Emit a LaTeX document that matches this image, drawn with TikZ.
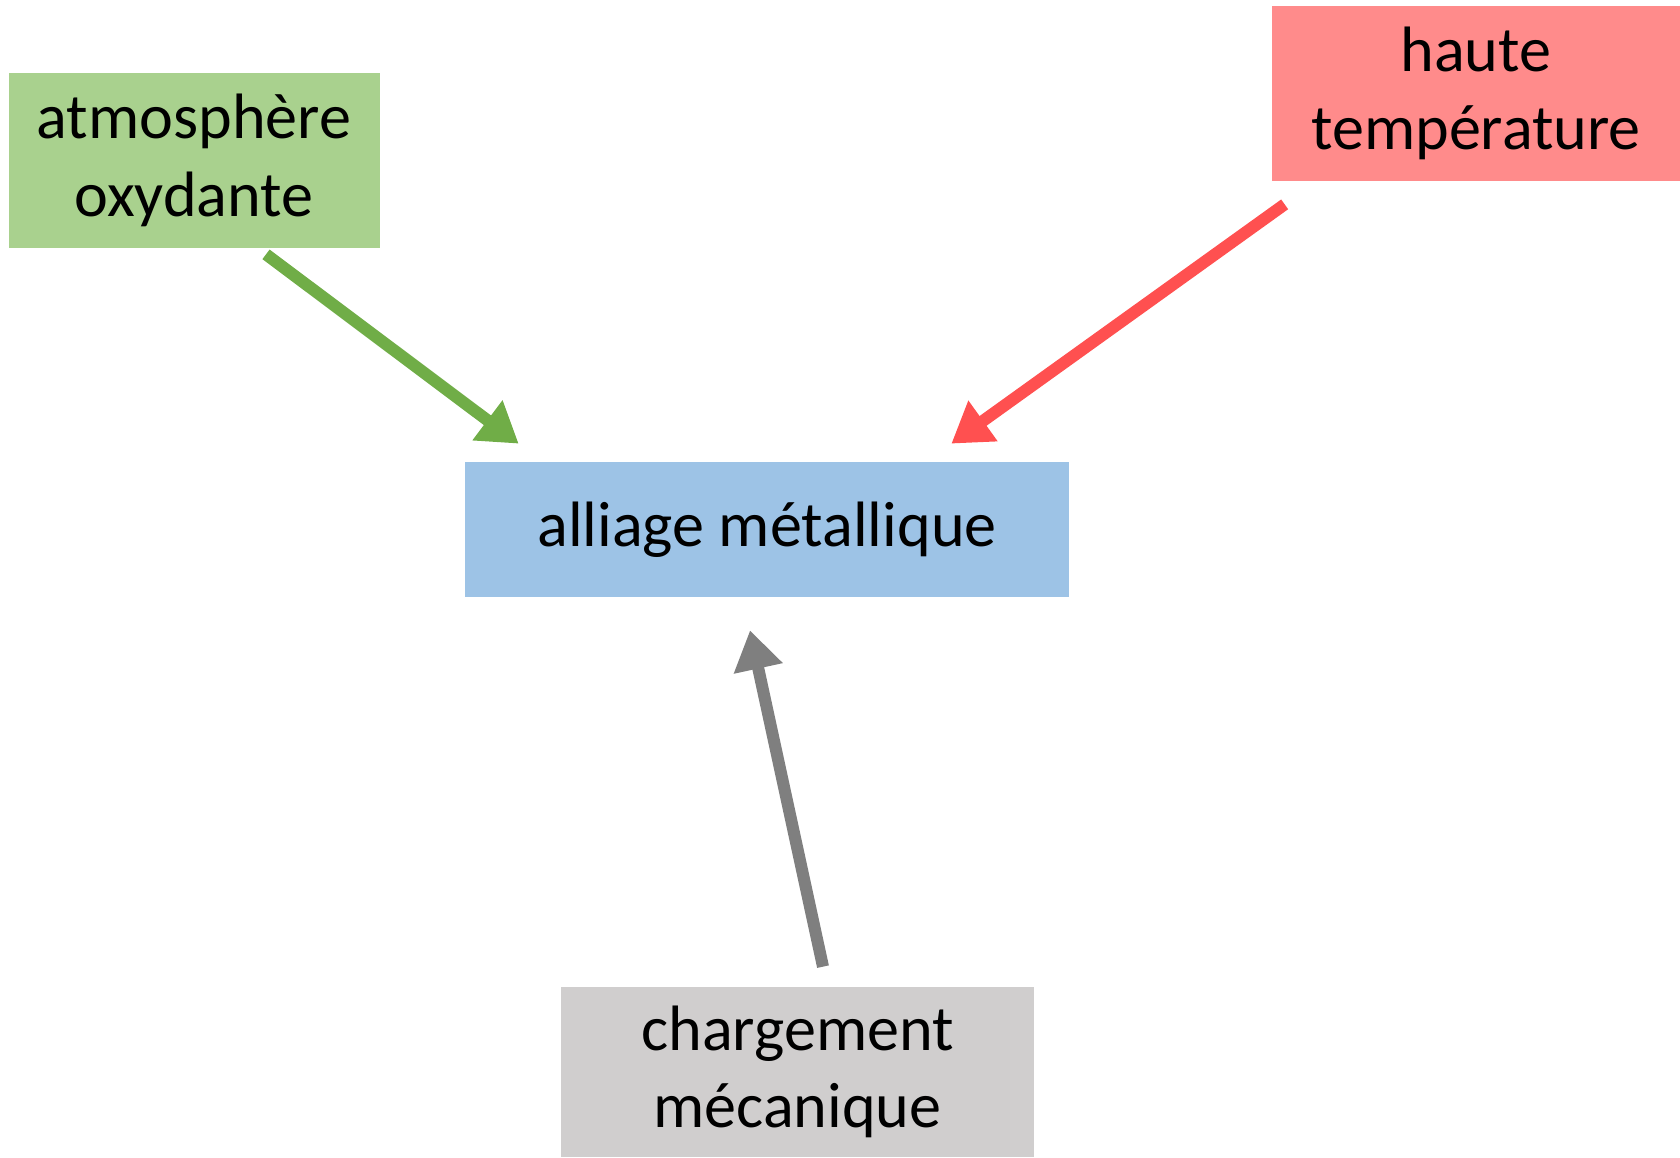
\documentclass[tikz,border=0pt]{standalone}
\usepackage{fontspec}
\setmainfont{Carlito}
\usepackage{xcolor}
\usetikzlibrary{positioning,arrows.meta,calc}
\definecolor{leaf}{HTML}{A9D18E}
\definecolor{leafdark}{HTML}{70AD47}
\definecolor{salmon}{HTML}{FF8B8B}
\definecolor{flame}{HTML}{FF5050}
\definecolor{sky}{HTML}{9DC3E6}
\definecolor{pebble}{HTML}{D0CECE}
\definecolor{slate}{HTML}{7F7F7F}

\begin{document}
\begin{tikzpicture}[
    box/.style={rectangle, inner sep=0pt, align=center, font=\fontsize{36.5}{44}\selectfont},
    arrow/.style={-{Triangle[length=0.78cm, width=0.95cm]}, line width=0.24cm}
]
    \useasboundingbox (0,0) rectangle (33.6,-23.16);

    % Factors
    \node[box, fill=leaf, minimum width=7.42cm, minimum height=3.5cm] (atmo) at (3.88,-3.21) {atmosphère\\oxydante};
    \node[box, fill=salmon, minimum width=8.16cm, minimum height=3.5cm] (temp) at (29.52,-1.87) {haute\\température};
    \node[box, fill=pebble, minimum width=9.46cm, minimum height=3.4cm] (charge) at (15.95,-21.44) {chargement\\mécanique};

    % Material
    \node[box, fill=sky, minimum width=12.08cm, minimum height=2.7cm] (alliage) at (15.34,-10.59) {alliage métallique};

    % Arrows
    \draw[arrow, draw=leafdark, fill=leafdark] ($(atmo.south)+(1.44,-0.12)$) -- ($(alliage.north west)+(1.08,0.36)$);
    \draw[arrow, draw=flame, fill=flame] ($(temp.south west)+(0.26,-0.46)$) -- ($(alliage.north east)+(-2.36,0.36)$);
    \draw[arrow, draw=slate, fill=slate] ($(charge.north)+(0.51,0.4)$) -- ($(alliage.south)+(-0.34,-0.66)$);
\end{tikzpicture}
\end{document}
